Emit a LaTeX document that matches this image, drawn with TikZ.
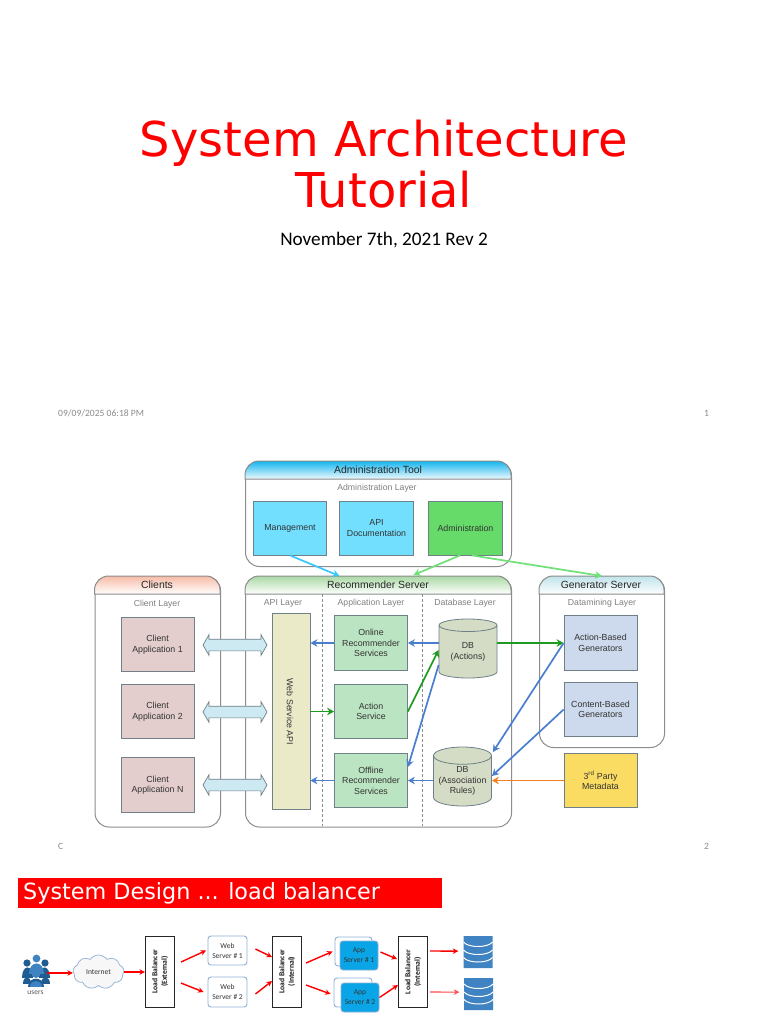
\documentclass[tikz,border=0pt]{standalone}
\usepackage{fontspec}
\setmainfont{Liberation Sans}
\newfontfamily\titlefont{DejaVu Sans}
\newfontfamily\slidefont{Carlito}
\usetikzlibrary{arrows.meta,shapes.geometric,shapes.arrows,shapes.symbols,calc}
\definecolor{frameC}{HTML}{8C8C8C}
\definecolor{edgeC}{HTML}{6F8088}
\definecolor{arrCyan}{HTML}{38C8F8}
\definecolor{arrLime}{HTML}{70E078}
\definecolor{arrBlue}{HTML}{4A7FD0}
\definecolor{arrGreen}{HTML}{1E9A1E}
\definecolor{arrOrange}{HTML}{F08020}
\definecolor{iconBlue}{HTML}{3F83C2}
\definecolor{iconDark}{HTML}{1F5C92}
\definecolor{serverEdge}{HTML}{8FB0D5}
\definecolor{appBlue}{HTML}{0AA5E6}
\definecolor{pageGrey}{HTML}{8C8C8C}
\newcommand{\fsz}[2]{\fontsize{#1}{#2}\selectfont}
\tikzset{
  x=1pt,y=-1pt,
  container/.style={draw=frameC,line width=1pt,rounded corners=14pt,fill=white,inner sep=0,anchor=north west},
  headline/.style={font=\fsz{10.4}{12},text=black!85,inner sep=0},
  layerlabel/.style={font=\fsz{8.7}{10},text=black!50,inner sep=0},
  boxbase/.style={draw=edgeC,line width=0.8pt,inner sep=0,align=center,font=\fsz{8.8}{10.5},text=black!80},
  adminbox/.style={boxbase,fill=#1,minimum width=73.5,minimum height=54},
  clientbox/.style={boxbase,fill=#1,minimum width=73,minimum height=54.5},
  dbbox/.style={cylinder,anchor=shape center,shape border rotate=90,aspect=0.36,draw=edgeC,line width=0.8pt,fill=#1,minimum width=58,inner sep=0,align=center,font=\fsz{8.8}{10.5},text=black!80},
  conn/.style={line width=1.7pt,-{Stealth[length=7pt,width=7.5pt]}},
  twoway/.style={double arrow,draw=edgeC,line width=0.7pt,fill=#1,minimum height=64,inner xsep=0,inner ysep=5.5pt,double arrow head extend=4.5pt,double arrow tip angle=120},
  lbbox/.style={draw=black!85,line width=1pt,fill=white,rotate=90,align=center,inner sep=0,minimum width=71,minimum height=29,font=\slidefont\bfseries\fsz{7.6}{9.5},text=black!90},
  serverbox/.style={draw=serverEdge,line width=0.9pt,rounded corners=3pt,inner sep=0,align=center,font=\slidefont\fsz{7.5}{10},text=black!80},
  redconn/.style={red,line width=1.4pt,-{Stealth[length=5.5pt,width=5.5pt]}},
  pagetext/.style={font=\slidefont\fsz{9.6}{11},text=pageGrey,inner sep=0},
  dbicon/.style={cylinder,anchor=shape center,shape border rotate=90,aspect=0.42,fill=iconBlue,draw=none,minimum width=29,minimum height=32,inner sep=0}
}
\begin{document}
\begin{tikzpicture}
\useasboundingbox (0,0) rectangle (768,1024);
\fill[white] (0,0) rectangle (768,1024);

% --- title slide
\node[inner sep=0,align=center,text=red,font=\titlefont\fsz{48}{51}] (title) at (384,164.5) {System Architecture\\Tutorial};
\node[inner sep=0,font=\slidefont\fsz{19.2}{22},text=black] (subtitle) at (384,240) {November 7th, 2021 Rev 2};
\node[pagetext,anchor=west] (date1) at (58,413) {09/09/2025 06:18 PM};
\node[pagetext] (num1) at (706.5,413) {1};
\node[pagetext,anchor=west] (date2) at (58,846) {C};
\node[pagetext] (num2) at (706.5,846) {2};

% --- containers
\node[container,minimum width=266,minimum height=105] (admin) at (245,461) {};
\node[container,minimum width=266,minimum height=250.5] (rec) at (245,576) {};
\node[container,minimum width=125.5,minimum height=250.5] (cli) at (94.5,576) {};
\node[container,minimum width=125,minimum height=171] (gen) at (539,576) {};

% --- header bands
\definecolor{hAdminTop}{HTML}{12B5EE}
\definecolor{hAdminBot}{HTML}{F0FAFE}
\definecolor{hRecTop}{HTML}{A9D9A4}
\definecolor{hCliTop}{HTML}{F7BBA6}
\definecolor{hGenTop}{HTML}{BFE3EA}
\path[top color=hAdminTop,bottom color=hAdminBot] (245,479) [rounded corners=14pt] -- (245,461) -- (511,461) [sharp corners] -- (511,479) -- cycle;
\draw[frameC,line width=1pt] (245,479) [rounded corners=14pt] -- (245,461) -- (511,461) [sharp corners] -- (511,479) -- cycle;
\path[top color=hRecTop,bottom color=white] (245,594) [rounded corners=14pt] -- (245,576) -- (511,576) [sharp corners] -- (511,594) -- cycle;
\draw[frameC,line width=1pt] (245,594) [rounded corners=14pt] -- (245,576) -- (511,576) [sharp corners] -- (511,594) -- cycle;
\path[top color=hCliTop,bottom color=white] (94.5,594) [rounded corners=14pt] -- (94.5,576) -- (220,576) [sharp corners] -- (220,594) -- cycle;
\draw[frameC,line width=1pt] (94.5,594) [rounded corners=14pt] -- (94.5,576) -- (220,576) [sharp corners] -- (220,594) -- cycle;
\path[top color=hGenTop,bottom color=white] (539,594) [rounded corners=14pt] -- (539,576) -- (664,576) [sharp corners] -- (664,594) -- cycle;
\draw[frameC,line width=1pt] (539,594) [rounded corners=14pt] -- (539,576) -- (664,576) [sharp corners] -- (664,594) -- cycle;

\node[headline] (hadmin) at (378,470) {Administration Tool};
\node[headline] (hrec) at (378,585) {Recommender Server};
\node[headline] (hcli) at (157,585) {Clients};
\node[headline] (hgen) at (601,585) {Generator Server};

\node[layerlabel] (ladmin) at (377,488) {Administration Layer};
\node[layerlabel] (lcli) at (157,604) {Client Layer};
\node[layerlabel] (lapi) at (283,603) {API Layer};
\node[layerlabel] (lapp) at (371,603) {Application Layer};
\node[layerlabel] (ldb) at (465,603) {Database Layer};
\node[layerlabel] (lgen) at (602,603) {Datamining Layer};

\draw[frameC,line width=0.9pt,dash pattern=on 3pt off 2pt] (322,594) -- (322,826);
\draw[frameC,line width=0.9pt,dash pattern=on 3pt off 2pt] (422,594) -- (422,826);

% --- boxes
\definecolor{adminBlue}{HTML}{72DFFF}
\definecolor{adminGreen}{HTML}{66DB6A}
\definecolor{clientPink}{HTML}{E3CDCD}
\definecolor{appGreen}{HTML}{BBE5C2}
\definecolor{apiYellow}{HTML}{EAEAC8}
\definecolor{dbGrey}{HTML}{D5DCC6}
\definecolor{genBlue}{HTML}{CDD9EC}
\definecolor{metaYellow}{HTML}{FADC62}
\node[adminbox=adminBlue] (mgmt) at (290,528) {Management};
\node[adminbox=adminBlue] (apidoc) at (376.5,528) {API\\Documentation};
\node[adminbox=adminGreen] (adm) at (465.5,528) {Administration};

\node[clientbox=clientPink] (c1) at (157.5,644.5) {Client\\Application 1};
\node[clientbox=clientPink] (c2) at (157.5,711.5) {Client\\Application 2};
\node[clientbox=clientPink] (c3) at (157.5,785) {Client\\Application N};

\node[boxbase,fill=apiYellow,minimum width=38,minimum height=196] (web) at (291,711) {};
\node[inner sep=0,rotate=-90,font=\fsz{8.8}{10.5},text=black!80] (webtext) at (290,712) {Web Service API};

\node[clientbox=appGreen] (online) at (371,643) {Online\\Recommender\\Services};
\node[clientbox=appGreen] (action) at (371,711.5) {Action\\Service};
\node[clientbox=appGreen] (offline) at (371,780.5) {Offline\\Recommender\\Services};

\node[dbbox=dbGrey,minimum height=59] (dba) at (468,648.5) {DB\\(Actions)};
\node[dbbox=dbGrey,minimum height=59] (dbr) at (462.5,776.5) {DB\\(Association\\Rules)};

\node[clientbox=genBlue] (abg) at (600.5,643) {Action-Based\\Generators};
\node[clientbox=genBlue] (cbg) at (600.5,709.5) {Content-Based\\Generators};
\node[clientbox=metaYellow] (meta) at (600.5,780.5) {3\textsuperscript{rd} Party\\Metadata};

% --- double arrows
\definecolor{wayBlue}{HTML}{CDE9F2}
\node[twoway=wayBlue] (w1) at (235,645) {};
\node[twoway=wayBlue] (w2) at (235,712) {};
\node[twoway=wayBlue] (w3) at (235,785) {};

% --- connectors, upper diagram
\draw[conn,arrCyan] (mgmt.south) -- ([xshift=-39pt]rec.north);
\draw[conn,arrLime] ([xshift=-5.5pt]adm.south) -- ([xshift=35pt,yshift=1pt]rec.north);
\draw[conn,arrLime] ([xshift=6.5pt]adm.south) -- (gen.north);
\draw[conn,arrBlue] (online.west) -- (web.east |- online.west);
\draw[conn,arrGreen] (web.east |- action.west) -- (action.west);
\draw[conn,arrBlue] (offline.west) -- (web.east |- offline.west);
\draw[conn,arrBlue] (dba.west |- online.east) -- (online.east);
\draw[conn,arrGreen] (action.east) -- (dba.west |- 0,650);
\draw[conn,arrBlue] (dba.west |- 0,665) -- ([yshift=13.5pt]offline.east);
\draw[conn,arrGreen] (dba.east |- abg.west) -- (abg.west);
\draw[conn,arrBlue] (abg.west) -- ([xshift=1pt]dbr.east |- 0,752);
\draw[conn,arrBlue] (cbg.west) -- (dbr.east |- 0,776);
\draw[conn,arrOrange] (meta.west) -- (dbr.east |- meta.west);
\draw[conn,arrBlue] (dbr.west |- offline.east) -- (offline.east);

% --- second slide banner
\node[fill=red,minimum width=424.5,minimum height=30,inner sep=0,anchor=north west] (banner) at (17.5,878) {};
\node[inner sep=0,anchor=west,text=white,font=\titlefont\fsz{22.3}{25}] (bannertext) at (23,893) {System Design ... load balancer};

% --- users icon
\fill[iconDark] (27,963) circle (3.6) (45,963) circle (3.6);
\fill[iconDark] (22,978) .. controls (22,964) and (33,964) .. (33,978) -- cycle;
\fill[iconDark] (39,978) .. controls (39,964) and (50,964) .. (50,978) -- cycle;
\fill[iconBlue] (36.5,958.5) circle (3.9);
\fill[iconBlue] (29,974) .. controls (29,960) and (44,960) .. (44,974) -- cycle;
\fill[iconBlue] (36,974) circle (4);
\fill[iconDark] (28,987) .. controls (28,976) and (44,976) .. (44,987) -- cycle;
\fill[iconBlue] (30,987) .. controls (30,979) and (42,979) .. (42,987) -- cycle;
\fill[iconDark] (22.5,984) .. controls (22.5,975) and (31,975) .. (31,984) -- cycle;
\fill[iconDark] (41,984) .. controls (41,975) and (49.5,975) .. (49.5,984) -- cycle;
\coordinate (users) at (47,973);
\node[inner sep=0,font=\slidefont\fsz{7.5}{9},text=black!65] (userstext) at (35.5,993) {users};

% --- second slide nodes
\node[cloud,cloud puffs=9,cloud puff arc=110,aspect=1.6,draw=serverEdge,fill=black!3,line width=0.7pt,minimum width=51,minimum height=34,inner sep=0,font=\slidefont\fsz{7.5}{9},text=black!80] (internet) at (98.5,972) {Internet};
\node[lbbox] (lb1) at (160,971.5) {Load Balancer\\(External)};
\node[serverbox,fill=white,minimum width=39,minimum height=29] (ws1) at (227.5,950.5) {Web\\Server \# 1};
\node[serverbox,fill=white,minimum width=39,minimum height=30] (ws2) at (227.5,992) {Web\\Server \# 2};
\node[lbbox] (lb2) at (287,971.5) {Load Balancer\\(Internal)};
\node[serverbox,fill=white,minimum width=37,minimum height=29] (as1b) at (353.5,951.5) {};
\node[serverbox,fill=appBlue,minimum width=38,minimum height=29] (as1) at (359,955.5) {App\\Server \# 1};
\node[serverbox,fill=white,minimum width=38,minimum height=29] (as2b) at (353,992.5) {};
\node[serverbox,fill=appBlue,minimum width=38,minimum height=29] (as2) at (360,997.5) {App\\Server \# 2};
\node[lbbox] (lb3) at (413,972) {Load Balancer\\(Internal)};

\node[dbicon] (db1) at (478,952) {};
\node[dbicon] (db2) at (478.5,994) {};
\foreach \c in {db1,db2}{
  \foreach \d in {-7,1,8.5}{
    \draw[white,line width=1pt] ($(\c.shape center)+(-14.5,\d-3)$) .. controls ($(\c.shape center)+(-10,\d+3)$) and ($(\c.shape center)+(10,\d+3)$) .. ($(\c.shape center)+(14.5,\d-3)$);
  }
}

% --- red connectors
\draw[redconn] (users) -- (internet.west |- users);
\draw[redconn] (internet.east) -- (lb1.north |- internet.east);
\draw[redconn] ([xshift=6pt,yshift=9.5pt]lb1.south) -- ([xshift=-1.5pt]ws1.west);
\draw[redconn] ([xshift=6pt,yshift=-11.5pt]lb1.south) -- ([xshift=-4pt]ws2.west);
\draw[redconn] ([xshift=8pt,yshift=1.5pt]ws1.east) -- ([yshift=14.5pt]lb2.north);
\draw[redconn] ([xshift=8pt,yshift=-2pt]ws2.east) -- ([yshift=-9.5pt]lb2.north);
\draw[redconn] ([xshift=4pt,yshift=8.5pt]lb2.south) -- ([xshift=-2pt]as1b.west);
\draw[redconn] ([xshift=4pt,yshift=-13.5pt]lb2.south) -- ([xshift=-3pt,yshift=-1.5pt]as2b.west);
\draw[redconn] ([xshift=2pt,yshift=3.5pt]as1.east) -- ([xshift=-1pt,yshift=13pt]lb3.north);
\draw[redconn] (as2.east) -- ([yshift=-13pt]lb3.north);
\draw[redconn] ([xshift=2pt,yshift=21pt]lb3.south) -- ([xshift=-5pt,yshift=1pt]db1.west);
\draw[redconn,red!70,line width=1.1pt] ([xshift=2pt,yshift=-20pt]lb3.south) -- ([xshift=-4.5pt,yshift=2pt]db2.west);
\end{tikzpicture}
\end{document}
